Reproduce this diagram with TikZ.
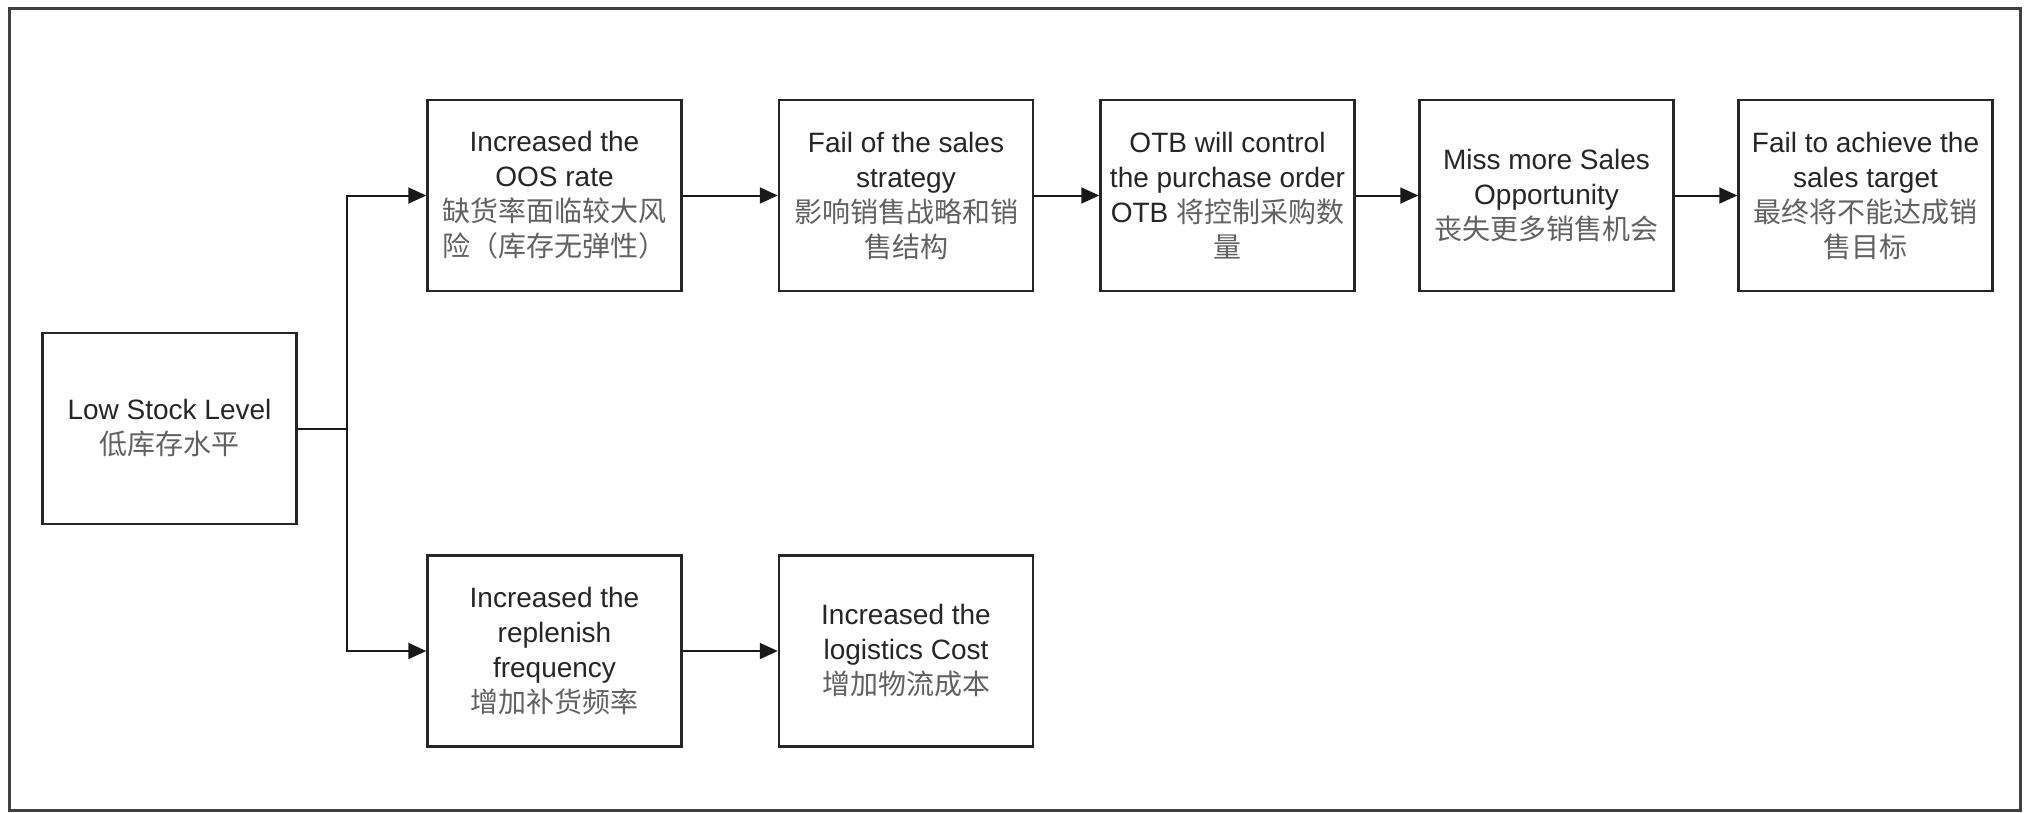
\documentclass[tikz,border=0pt]{standalone}
\usepackage{fontspec}
\setmainfont{Liberation Sans}
\newfontfamily\cjk{Noto Sans CJK SC}
\usetikzlibrary{arrows.meta}
\newcommand{\zh}[1]{{\cjk\color{black!62}#1}}

\tikzset{
  stepbox/.style={draw=black!85, line width=2.5pt, fill=white,
    minimum width=254pt, minimum height=191pt, inner sep=0pt,
    align=center, text=black!85, font=\fontsize{28}{35}\selectfont},
  conn/.style={draw=black!90, line width=2pt,
    -{Triangle[length=18pt,width=16pt]}},
  link/.style={draw=black!90, line width=2pt},
}

\begin{document}
\begin{tikzpicture}[x=1pt,y=-1pt]
  \useasboundingbox (0,0) rectangle (2028,812);
  % outer frame
  \draw[line width=3pt, draw=black!75] (9,8) rectangle (2020,810);

  % cause
  \node[stepbox] (low) at (169.5,428.5) {Low Stock Level\\\zh{低库存水平}};

  % upper chain
  \node[stepbox] (oos)   at (554.5,195.5) {Increased the\\OOS rate\\\zh{缺货率面临较大风}\\\zh{险（库存无弹性）}};
  \node[stepbox] (fail)  at (906,195.5)   {Fail of the sales\\strategy\\\zh{影响销售战略和销}\\\zh{售结构}};
  \node[stepbox] (otb)   at (1227.5,195.5){OTB will control\\the purchase order\\OTB \zh{将控制采购数}\\\zh{量}};
  \node[stepbox] (miss)  at (1546.5,195.5){Miss more Sales\\Opportunity\\\zh{丧失更多销售机会}};
  \node[stepbox] (final) at (1865.5,195.5){Fail to achieve the\\sales target\\\zh{最终将不能达成销}\\\zh{售目标}};

  % lower chain
  \node[stepbox] (rep) at (554.5,651) {Increased the\\replenish\\frequency\\\zh{增加补货频率}};
  \node[stepbox] (log) at (906,651)   {Increased the\\logistics Cost\\\zh{增加物流成本}};

  % branching point
  \coordinate (jn) at (347,428.5);

  \draw[link] (low.east) -- (jn);
  \draw[conn] (jn) |- (oos.west);
  \draw[conn] (jn) |- (rep.west);

  \draw[conn] (oos.east)  -- (fail.west);
  \draw[conn] (fail.east) -- (otb.west);
  \draw[conn] (otb.east)  -- (miss.west);
  \draw[conn] (miss.east) -- (final.west);
  \draw[conn] (rep.east)  -- (log.west);
\end{tikzpicture}
\end{document}
